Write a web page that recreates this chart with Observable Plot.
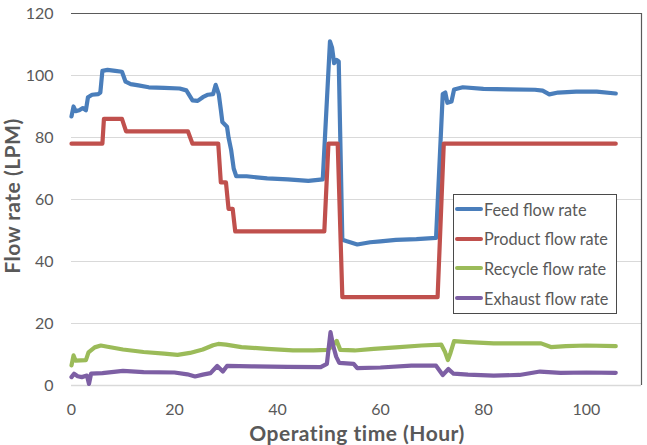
<!DOCTYPE html>
<html>
<head>
<meta charset="utf-8">
<script src="https://cdn.jsdelivr.net/npm/d3@7"></script>
<script src="https://cdn.jsdelivr.net/npm/@observablehq/plot@0.6"></script>
<style>
  body { margin: 0; background: #fff; }
  #wrap { position: relative; width: 647px; height: 445px; overflow: hidden; font-family: Lato, "Open Sans", sans-serif; }
  #wrap svg { position: absolute; left: 0; top: 0; }
  .title { position: absolute; font-weight: bold; font-size: 21px; letter-spacing: 0.5px; color: #595959; white-space: nowrap; line-height: 1; }
  #ytitle { left: 11px; top: 196px; transform: translate(-50%, -50%) rotate(-90deg); }
  #xtitle { left: 357px; top: 422px; transform: translateX(-50%); }
  #legend { position: absolute; left: 453px; top: 194px; width: 162px; height: 118px; border: 1.5px solid #4a4a4a; background: #fff; }
  .entry { position: absolute; left: 1px; height: 20px; display: flex; align-items: center; font-size: 16.3px; color: #595959; white-space: nowrap; }
  .swatch { width: 28px; height: 4px; margin-right: 1px; border-radius: 2px; }
</style>
</head>
<body>
<div id="wrap">
  <div id="ytitle" class="title">Flow rate (LPM)</div>
  <div id="xtitle" class="title">Operating time (Hour)</div>
  <div id="legend"></div>
</div>
<script>
// Axis ticks and extents
const xTicks = [0, 20, 40, 60, 80, 100];
const yTicks = [0, 20, 40, 60, 80, 100, 120];
const xDomain = [0, 110.7];
const yDomain = [0, 120];

// Series names and colours
const seriesNames = ["Feed flow rate", "Product flow rate", "Recycle flow rate", "Exhaust flow rate"];
const seriesColors = ["#4a7ebb", "#c0504d", "#9bbb59", "#7d5fa4"];

// [operating hour, flow rate in LPM]
const feed = [[0,86.8],[0.4,90],[0.8,88.5],[1.5,88.8],[2.2,89.5],[2.8,88.8],[3.2,93],[4,93.8],[5.2,94],[5.6,94.5],[6.0,101.5],[7,101.8],[8.5,101.5],[9.8,101.2],[10.5,98],[11.5,97.2],[13,96.8],[15,96.2],[18,96],[21,95.8],[22.3,95.2],[23.5,92],[24.5,91.8],[25.5,93],[26.5,93.8],[27.5,94],[28,97],[28.6,94],[29,89],[29.3,85],[30.2,83.5],[30.5,80],[31,76],[31.5,70],[32,67.5],[34,67.5],[38,66.8],[42,66.5],[46,66],[48.8,66.5],[50.2,111],[50.6,109],[51,104],[51.5,105],[51.9,104.5],[52.6,47],[53.5,46.5],[55.5,45.5],[58,46.2],[60,46.5],[63,47],[67,47.2],[70.8,47.6],[72.1,94],[72.6,94.5],[73,91.2],[73.8,91.6],[74.3,95.5],[76,96.2],[80,95.7],[85,95.5],[90,95.4],[91.5,95.1],[92.8,93.9],[94.5,94.5],[98,94.8],[102,94.8],[105.7,94.2]];
const product = [[0,78],[6,78],[6.3,86],[9.8,86],[10.6,82],[22.6,82],[23.5,78],[28.5,78],[29,65.5],[30,65.5],[30.5,57],[31.3,57],[31.8,49.7],[49.1,49.7],[49.9,78],[51.7,78],[52.6,28.5],[71.1,28.5],[72.3,78],[105.7,78]];
const recycle = [[0,6.5],[0.4,9.7],[0.8,8],[2.8,8.2],[3.3,10.7],[4.5,12.3],[5.7,12.9],[7,12.5],[10,11.6],[14,10.8],[18,10.3],[20.6,9.9],[23,10.5],[25.5,11.6],[27.5,13],[28.5,13.4],[30,13.2],[33,12.4],[38,11.8],[43,11.3],[47,11.3],[49.7,11.5],[50.5,12.5],[51.5,14.4],[52.2,11.5],[55,11.3],[58.7,11.8],[63,12.3],[68,12.9],[71.8,13.2],[72.5,11],[73.1,8.2],[73.6,10.5],[74.3,14.3],[77,14],[82,13.6],[88,13.6],[91.2,13.6],[93.1,12.4],[96,12.7],[100,12.9],[105.7,12.7]];
const exhaust = [[0,2.7],[0.5,3.8],[1.2,3],[2,2.7],[3,3.2],[3.4,0.5],[3.8,3.8],[6,4],[10,4.7],[14,4.3],[20,4.2],[22.5,3.6],[24,2.9],[25.5,3.5],[27,4],[28.3,6.3],[29.4,4.5],[30.2,6.3],[35,6.2],[42,6],[48.4,5.9],[49.6,7],[50.3,17.2],[50.8,13],[51.4,9.3],[52,7.3],[54.8,7],[55.5,5.6],[60,5.8],[66,6.4],[70.8,6.4],[72.1,3.4],[73.2,5.3],[74.2,3.8],[77,3.5],[82,3.2],[87,3.4],[91,4.5],[95,4.1],[100,4.2],[105.7,4.1]];

const seriesData = [feed, product, recycle, exhaust];
const rows = seriesData.flatMap((pts, i) => pts.map(([hour, flow]) => ({ series: seriesNames[i], hour, flow })));

const chart = Plot.plot({
  width: 647,
  height: 445,
  marginLeft: 71,
  marginRight: 6,
  marginTop: 13,
  marginBottom: 60,
  style: { fontFamily: "Lato, 'Open Sans', sans-serif", fontSize: "16px", color: "#595959", background: "transparent" },
  x: { domain: xDomain, label: null },
  y: { domain: yDomain, label: null },
  color: { domain: seriesNames, range: seriesColors },
  marks: [
    Plot.gridY(yTicks.filter(t => t > yDomain[0] && t < yDomain[1]), { stroke: "#d9d9d9", strokeOpacity: 1 }),
    Plot.ruleY([yDomain[0]], { stroke: "#d9d9d9", strokeWidth: 1.3 }),
    Plot.ruleY([yDomain[1]], { stroke: "#5a5a5a", strokeWidth: 1.2 }),
    Plot.ruleX([xDomain[1]], { stroke: "#5a5a5a", strokeWidth: 1.2 }),
    Plot.axisX({ ticks: xTicks, tickSize: 0, tickPadding: 18, label: null }),
    Plot.axisY({ ticks: yTicks, tickSize: 0, tickPadding: 18, label: null }),
    Plot.line(rows, { x: "hour", y: "flow", z: "series", stroke: "series", strokeWidth: 4.2, strokeLinejoin: "round", strokeLinecap: "round" })
  ]
});
document.getElementById("wrap").prepend(chart);

// Legend entries
const legend = document.getElementById("legend");
seriesNames.forEach((name, i) => {
  const row = document.createElement("div");
  row.className = "entry";
  row.style.top = (4 + i * 29.7) + "px";
  const sw = document.createElement("span");
  sw.className = "swatch";
  sw.style.background = seriesColors[i];
  const label = document.createElement("span");
  label.textContent = name;
  row.append(sw, label);
  legend.append(row);
});
</script>
</body>
</html>
